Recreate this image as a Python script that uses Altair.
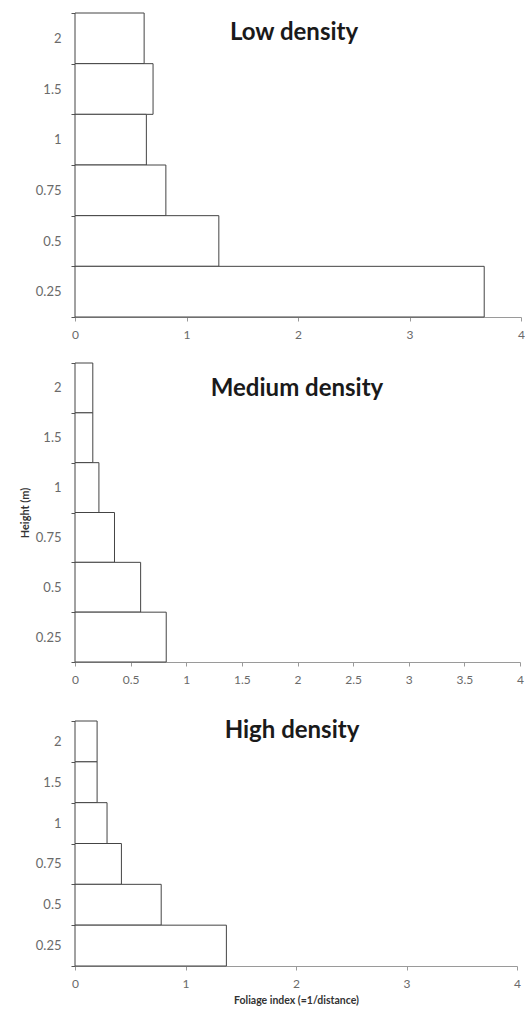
import altair as alt
import pandas as pd

heights = ["2", "1.5", "1", "0.75", "0.5", "0.25"]
low = [0.62, 0.70, 0.64, 0.815, 1.29, 3.67]
medium = [0.16, 0.16, 0.215, 0.355, 0.59, 0.82]
high = [0.20, 0.20, 0.29, 0.42, 0.78, 1.37]
titles = ["Low density", "Medium density", "High density"]
ticks_low = [0, 1, 2, 3, 4]
ticks_medium = [0, 0.5, 1, 1.5, 2, 2.5, 3, 3.5, 4]
ticks_high = [0, 1, 2, 3, 4]
y_title = "Height (m)"
x_title = "Foliage index (=1/distance)"

LABEL_FONT = "Lato"
LABEL_COLOR = "#6a6a6a"
AXIS_COLOR = "#9a9a9a"


def panel(values, title, ticks, w, h, tx, ty, ytitle=None, xtitle=None, blank_x_title=False):
    df = pd.DataFrame({"height": heights, "foliage": values})
    y_kwargs = dict(
        tickBand="extent", tickSize=4, tickColor="#555555", domainColor=AXIS_COLOR,
        labelPadding=10, labelFont=LABEL_FONT, labelFontSize=13, labelColor=LABEL_COLOR,
        grid=False,
    )
    if ytitle:
        y_kwargs.update(title=ytitle, titleFont=LABEL_FONT, titleFontSize=11,
                        titleFontWeight="bold", titleColor="#333333", titlePadding=5)
    else:
        y_kwargs.update(title=None)
    x_kwargs = dict(
        values=ticks, format="~g", tickSize=4, tickColor=AXIS_COLOR, domainColor=AXIS_COLOR,
        labelPadding=8, labelFont=LABEL_FONT, labelFontSize=12, labelColor=LABEL_COLOR,
        grid=False, labelFlush=False, labelOverlap=False,
    )
    if xtitle:
        x_kwargs.update(title=xtitle, titleFont=LABEL_FONT, titleFontSize=10.5,
                        titleFontWeight="bold", titleColor="#333333", titlePadding=6)
    elif blank_x_title:
        x_kwargs.update(title=" ", titleFontSize=10, titlePadding=3)
    else:
        x_kwargs.update(title=None)

    bars = alt.Chart(df).mark_bar(fill="white", stroke="#444444", strokeWidth=1).encode(
        y=alt.Y("height:N", sort=heights,
                scale=alt.Scale(paddingInner=0, paddingOuter=0),
                axis=alt.Axis(**y_kwargs)),
        x=alt.X("foliage:Q", scale=alt.Scale(domain=[0, 4], nice=False),
                axis=alt.Axis(**x_kwargs)),
    )
    label = alt.Chart(pd.DataFrame({"t": [title]})).mark_text(
        font="Lato", fontSize=24, fontWeight="bold", color="#1a1a1a",
        align="center", baseline="middle",
    ).encode(text="t:N", x=alt.value(tx), y=alt.value(ty))
    return alt.layer(bars, label).properties(width=w, height=h)


p1 = panel(low, titles[0], ticks_low, 446, 304, 219, 20)
p2 = panel(medium, titles[1], ticks_medium, 445, 299, 222, 26, ytitle=y_title, blank_x_title=True)
p3 = panel(high, titles[2], ticks_high, 442, 245, 217, 10, xtitle=x_title)

chart = alt.vconcat(p1, p2, p3, spacing=17).properties(
    padding={"left": 19, "top": 7, "right": 0, "bottom": 0},
    background="white",
).configure_view(stroke=None)

chart.save("out.html", embed_options={"renderer": "svg", "actions": False})
